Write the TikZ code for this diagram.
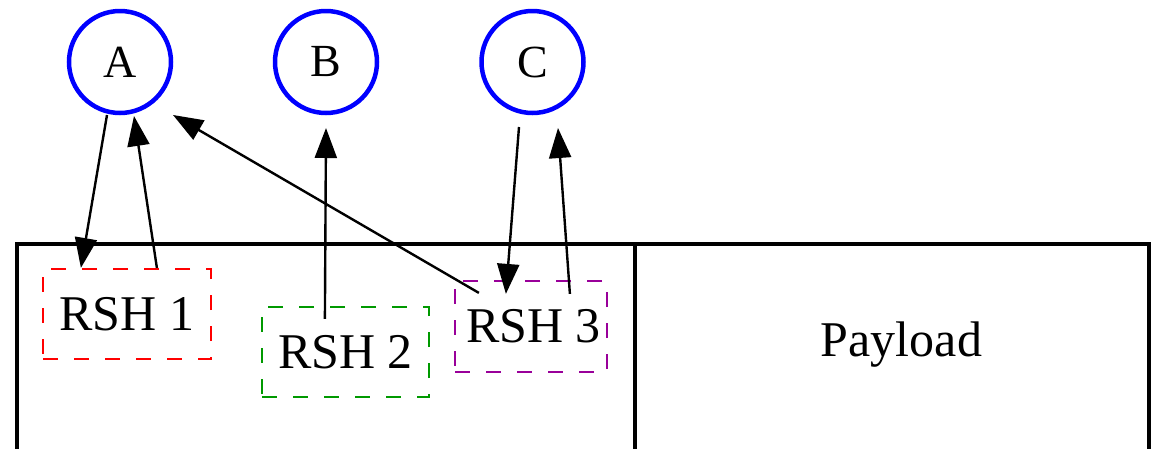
\documentclass[tikz,border=0pt]{standalone}
\usepackage{fontspec}
\setmainfont{Liberation Serif}
\usetikzlibrary{arrows.meta,calc}
\definecolor{rshred}{RGB}{255,0,0}
\definecolor{rshgreen}{RGB}{0,153,0}
\definecolor{rshpurple}{RGB}{153,0,153}
\definecolor{nodeblue}{RGB}{0,0,255}
\tikzset{
  hostnode/.style={circle,draw=nodeblue,line width=4.5pt,minimum size=102pt,inner sep=0pt,
    font=\fontsize{46}{48}\selectfont},
  rshbox/.style={draw,line width=2.2pt,dash pattern=on 15pt off 16pt,inner sep=0pt,
    font=\fontsize{50}{52}\selectfont},
  part/.style={draw,line width=4.5pt},
  conn/.style={line width=2.4pt,-{Triangle[length=30pt,width=22pt]}},
}
\begin{document}
\begin{tikzpicture}[x=1pt,y=-1pt]
\useasboundingbox (0,0) rectangle (1154,448);
% packet parts
\draw[part] (17,449) -- (17,244) -- (635,244) -- (635,449);
\draw[part] (635,244) -- (1149,244) -- (1149,449);
\node[font=\fontsize{50}{52}\selectfont,anchor=base] (payload) at (901.5,356) {Payload};
% hosts
\node[hostnode] (A) at (120,62) {A};
\node[hostnode] (B) at (326,62) {B};
\node[hostnode] (C) at (532.5,62) {C};
% routing headers
\node[rshbox,draw=rshred,minimum width=168pt,minimum height=90pt] (RSH1) at (127,314) {RSH 1};
\node[rshbox,draw=rshgreen,minimum width=167pt,minimum height=90pt] (RSH2) at (345.5,352) {RSH 2};
\node[rshbox,draw=rshpurple,minimum width=152pt,minimum height=91pt] (RSH3) at (531,326.5) {\hspace*{5pt}RSH 3};
% connectors
\draw[conn] ($(A.center)+(-13,53)$) -- ($(RSH1.north west)+(39,0)$);
\draw[conn] ($(RSH1.north west)+(115,0)$) -- ($(A.center)+(14,54)$);
\draw[conn] ($(RSH2.north west)+(64,13)$) -- ($(B.center)+(0,66)$);
\draw[conn] ($(RSH3.north west)+(25,13)$) -- ($(A.center)+(53,53)$);
\draw[conn] ($(C.center)+(-13.5,65)$) -- ($(RSH3.north west)+(52,14)$);
\draw[conn] ($(RSH3.north west)+(116,14)$) -- ($(C.center)+(25.5,66)$);
\end{tikzpicture}
\end{document}
